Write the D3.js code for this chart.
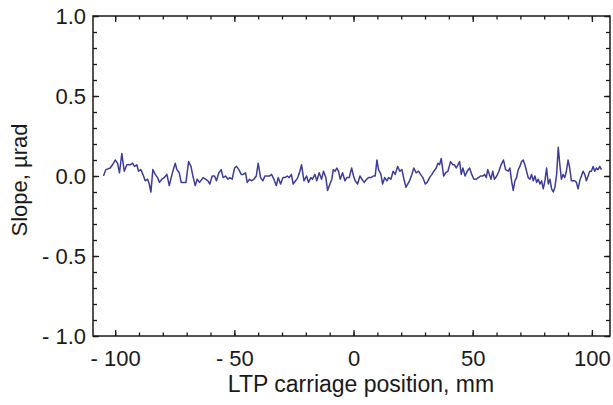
<!DOCTYPE html>
<html>
<head>
<meta charset="utf-8">
<script src="https://cdn.jsdelivr.net/npm/d3@7"></script>
<style>
  html, body { margin: 0; padding: 0; background: #fff; }
  svg { display: block; }
  text { font-family: "Liberation Sans", Arial, sans-serif; fill: #1a1a1a; }
</style>
</head>
<body>
<svg id="chart" width="613" height="405"></svg>
<script>
// Data: LTP carriage position (mm) and slope (µrad)
const positions = [
  -104.9,-103.9,-102.1,-101.1,-100.0,-99.0,-98.2,-97.2,-96.2,-95.1,-93.7,-92.7,-91.9,-90.9,-90.2,-89.2,-88.1,-87.4,-86.4,-85.7,-85.0,-84.2,-83.2,-82.2,-81.4,-80.4,-79.4,-78.3,-77.3,-76.5,-75.6,-74.8,-74.1,-73.1,-72.3,-71.3,-70.3,-69.2,-68.2,-67.4,-66.4,-65.6,-64.6,-63.6,
  -63.1,-62.1,-61.1,-60.3,-59.3,-58.3,-57.5,-56.5,-55.5,-54.7,-53.7,-52.7,-51.9,-50.9,-49.9,-49.1,-48.1,-47.1,-46.3,-45.3,-44.6,-43.6,-42.8,-41.8,-40.8,-40.0,-39.0,-38.0,-37.2,-36.2,-35.2,-34.4,-33.4,-32.4,-31.6,-30.6,-29.6,-28.8,-27.8,-27.0,-26.1,-25.3,-24.3,-23.4,-22.5,-21.8,-20.8,
  -19.7,-18.9,-17.9,-17.2,-16.2,-15.4,-14.4,-13.4,-12.6,-11.6,-10.9,-9.9,-9.1,-8.5,-7.7,-7.0,-6.3,-5.6,-4.6,-3.6,-2.8,-1.8,-0.8,0.0,0.7,1.7,2.7,3.5,4.5,5.5,6.3,7.3,8.3,9.1,9.8,10.5,11.5,12.2,13.1,14.0,14.7,15.7,16.6,17.5,18.5,19.4,20.3,21.3,22.0,
  23.5,24.5,25.3,26.3,27.3,28.1,29.1,30.1,30.9,31.9,32.9,33.7,34.7,35.4,36.1,36.8,37.8,38.6,39.6,40.7,41.7,42.4,43.1,43.8,44.5,45.2,45.9,46.8,47.7,48.7,49.6,50.5,51.5,52.4,53.3,54.3,55.0,55.7,56.3,57.0,57.7,58.4,59.1,60.1,61.0,61.9,62.9,63.8,
  64.9,65.6,66.3,67.0,67.7,68.4,69.1,69.8,70.5,71.2,71.9,72.6,73.3,74.0,74.7,75.4,76.1,76.8,77.5,78.2,78.9,79.6,80.3,81.0,81.7,82.4,83.1,83.8,84.5,85.2,85.9,86.5,87.2,87.9,88.6,89.3,90.0,90.7,91.4,92.1,92.8,93.5,94.2,94.9,95.6,96.3,97.0,97.7,98.4,99.1,99.8,100.5,101.2,101.9,102.6,103.3,104.0
];
const slopes = [
  0.00,0.04,0.05,0.07,0.10,0.08,0.02,0.14,0.03,0.07,0.07,0.08,0.06,0.07,0.03,0.04,0.00,-0.03,-0.02,-0.05,-0.10,0.04,0.01,-0.01,-0.04,-0.02,-0.01,0.01,-0.06,-0.01,0.04,0.08,0.04,0.02,-0.04,-0.04,-0.04,0.09,0.06,0.00,-0.06,-0.02,-0.04,-0.02,
  -0.01,-0.02,-0.03,-0.05,0.00,0.00,-0.03,0.02,0.04,-0.01,0.00,-0.02,-0.01,-0.02,0.05,0.06,0.04,0.01,0.01,0.02,-0.04,-0.02,-0.03,-0.02,0.00,0.08,-0.01,-0.03,0.00,0.00,0.00,0.01,-0.02,-0.06,-0.01,-0.05,-0.01,-0.01,0.00,-0.01,0.01,-0.05,-0.03,-0.01,0.03,0.07,-0.03,
  0.00,-0.04,-0.01,-0.02,0.01,-0.03,0.02,-0.02,0.03,-0.01,-0.09,-0.05,-0.02,0.04,0.03,0.05,0.03,-0.02,0.02,-0.03,-0.01,-0.01,0.05,0.00,-0.03,-0.05,0.00,-0.02,-0.04,-0.02,-0.01,-0.01,0.00,0.00,0.10,0.04,0.01,-0.05,-0.01,-0.03,-0.01,-0.02,0.03,0.01,0.06,0.03,0.04,-0.03,-0.07,
  -0.03,0.01,0.05,0.02,0.03,0.01,-0.01,-0.05,-0.04,-0.01,0.01,0.03,0.05,0.08,0.07,0.11,0.00,0.02,0.03,0.09,0.07,0.07,0.05,0.07,0.09,0.01,0.05,0.00,0.03,0.05,0.01,-0.02,-0.02,-0.01,0.00,0.00,0.01,-0.01,0.04,0.01,-0.02,0.03,-0.02,0.00,0.03,0.07,0.10,0.04,
  0.03,0.05,-0.03,-0.09,-0.03,-0.01,0.04,0.06,0.09,0.10,0.07,0.03,-0.01,-0.02,0.01,-0.03,0.00,-0.04,-0.02,-0.05,-0.03,-0.08,-0.03,0.05,-0.05,-0.02,-0.08,-0.10,-0.07,0.01,0.18,0.08,-0.02,0.01,-0.01,0.03,0.10,0.05,-0.03,-0.03,-0.03,-0.04,-0.08,-0.03,0.00,0.03,0.01,-0.03,0.00,0.03,0.03,0.06,0.03,0.05,0.04,0.06,0.04
];
const xMajorTicks = [-100, -50, 0, 50, 100];
const xMinorTicks = [-100,-90,-80,-70,-60,-50,-40,-30,-20,-10,0,10,20,30,40,50,60,70,80,90,100];
const yMajorTicks = [-1.0, -0.5, 0.0, 0.5, 1.0];
const yMinorTicks = [-1.0,-0.9,-0.8,-0.7,-0.6,-0.5,-0.4,-0.3,-0.2,-0.1,0,0.1,0.2,0.3,0.4,0.5,0.6,0.7,0.8,0.9,1.0];
const xTitle = "LTP carriage position, mm";
const yTitle = "Slope, µrad";

const svg = d3.select("#chart");
const L = 93, R = 610, T = 16, B = 336;
const x = d3.scaleLinear().domain([-109.3, 107.6]).range([L, R]);
const y = d3.scaleLinear().domain([-1, 1]).range([B, T]);

const fmtX = d => d < 0 ? "- " + Math.abs(d) : String(d);
const fmtY = d => { const s = Math.abs(d).toFixed(1); return d < -1e-9 ? "- " + s : s; };

function styleAxis(g) {
  g.select(".domain").remove();
  g.selectAll(".tick line").attr("stroke", "#1a1a1a").attr("stroke-width", 1.3);
}

// minor ticks
svg.append("g").attr("transform", `translate(0,${B})`)
  .call(d3.axisBottom(x).tickValues(xMinorTicks).tickSize(-3.5).tickFormat("")).call(styleAxis);
svg.append("g").attr("transform", `translate(0,${T})`)
  .call(d3.axisTop(x).tickValues(xMinorTicks).tickSize(-3.5).tickFormat("")).call(styleAxis);
svg.append("g").attr("transform", `translate(${L},0)`)
  .call(d3.axisLeft(y).tickValues(yMinorTicks).tickSize(-4).tickFormat("")).call(styleAxis);
svg.append("g").attr("transform", `translate(${R},0)`)
  .call(d3.axisRight(y).tickValues(yMinorTicks).tickSize(-4).tickFormat("")).call(styleAxis);

// major ticks
const gxb = svg.append("g").attr("transform", `translate(0,${B})`)
  .call(d3.axisBottom(x).tickValues(xMajorTicks).tickSize(-6).tickPadding(0).tickFormat(fmtX)).call(styleAxis);
gxb.selectAll(".tick text").attr("y", 14).attr("dy", "0.71em")
  .style("font-size", "22px").style("font-family", "'Liberation Sans', Arial, sans-serif").attr("fill", "#1a1a1a");
svg.append("g").attr("transform", `translate(0,${T})`)
  .call(d3.axisTop(x).tickValues(xMajorTicks).tickSize(-6).tickFormat("")).call(styleAxis);
const gyl = svg.append("g").attr("transform", `translate(${L},0)`)
  .call(d3.axisLeft(y).tickValues(yMajorTicks).tickSize(-6).tickFormat(fmtY)).call(styleAxis);
gyl.selectAll(".tick text").attr("x", -7).attr("dy", "0.35em")
  .style("font-size", "22px").style("font-family", "'Liberation Sans', Arial, sans-serif").attr("fill", "#1a1a1a");
svg.append("g").attr("transform", `translate(${R},0)`)
  .call(d3.axisRight(y).tickValues(yMajorTicks).tickSize(-6).tickFormat("")).call(styleAxis);

// frame
svg.append("rect").attr("x", L).attr("y", T).attr("width", R - L).attr("height", B - T)
  .attr("fill", "none").attr("stroke", "#1a1a1a").attr("stroke-width", 1.5);

// data line
const pts = positions.map((p, i) => [p, slopes[i]]);
svg.append("path").datum(pts)
  .attr("fill", "none").attr("stroke", "#3c3c9c").attr("stroke-width", 1.5)
  .attr("stroke-linejoin", "round")
  .attr("d", d3.line().x(d => x(d[0])).y(d => y(d[1])));

// titles
svg.append("text").attr("x", 361).attr("y", 392).attr("text-anchor", "middle")
  .style("font-size", "23px").text(xTitle);
svg.append("text").attr("transform", `translate(27,180) rotate(-90)`)
  .attr("text-anchor", "middle").style("font-size", "22px").text(yTitle);
</script>
</body>
</html>
